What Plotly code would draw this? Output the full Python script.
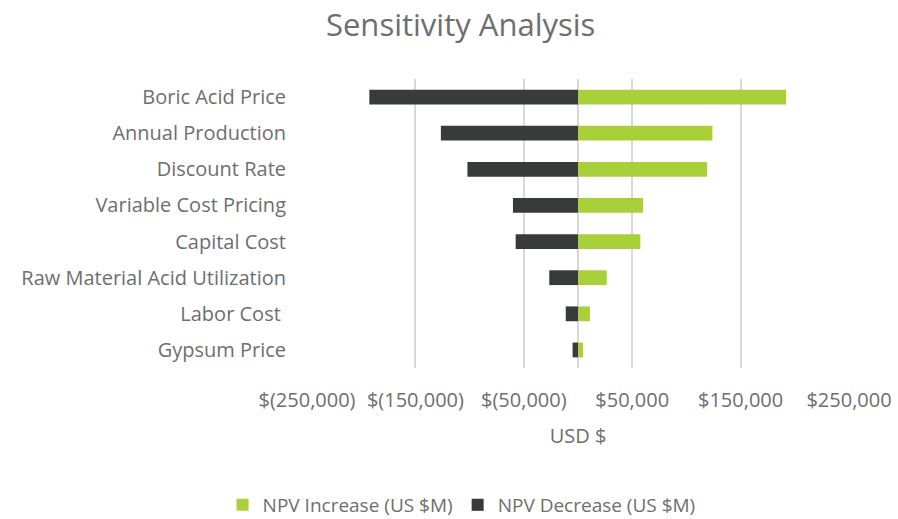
import plotly.graph_objects as go

# Sensitivity drivers, listed top to bottom
factors = [
    "Boric Acid Price",
    "Annual Production",
    "Discount Rate",
    "Variable Cost Pricing",
    "Capital Cost",
    "Raw Material Acid Utilization",
    "Labor Cost ",
    "Gypsum Price",
]
npv_increase = [192000, 124000, 119000, 60000, 57500, 26500, 11000, 4600]
npv_decrease = [-192500, -126500, -102000, -60000, -57500, -26500, -11300, -5000]

tick_values = [-250000, -150000, -50000, 50000, 150000, 250000]
tick_labels = ["$(250,000)", "$(150,000)", "$(50,000)", "$50,000", "$150,000", "$250,000"]

GREEN = "#A9D03A"
DARK = "#393B3B"
TEXT = "#6E6E6E"
GRID = "#D9D9D9"
FONT = "Open Sans"

fig = go.Figure()
fig.add_trace(go.Bar(
    y=factors, x=npv_increase, orientation="h",
    name="NPV Increase (US $M)", marker=dict(color=GREEN, line=dict(width=0)),
))
fig.add_trace(go.Bar(
    y=factors, x=npv_decrease, orientation="h",
    name="NPV Decrease (US $M)", marker=dict(color=DARK, line=dict(width=0)),
))

fig.update_layout(
    width=898, height=519,
    barmode="relative", bargap=0.59,
    plot_bgcolor="white", paper_bgcolor="white",
    font=dict(family=FONT, color=TEXT, size=20),
    title=dict(text="Sensitivity Analysis", x=0.513, xanchor="center",
               y=0.952, yanchor="middle",
               font=dict(family=FONT, size=31, color="#6E6E6E")),
    margin=dict(l=307, r=49, t=79, b=151, autoexpand=False),
    legend=dict(orientation="h", x=0.514, xanchor="center",
                y=(519 - 505) / 519, yanchor="middle",
                xref="container", yref="container",
                font=dict(size=19, color=TEXT),
                traceorder="normal"),
    showlegend=True,
)

fig.update_xaxes(
    range=[-250000, 250000], tickvals=tick_values, ticktext=tick_labels,
    showgrid=True, gridcolor=GRID, gridwidth=1.5,
    zeroline=True, zerolinecolor=GRID, zerolinewidth=1.5,
    showline=False, ticks="", tickfont=dict(size=20, color=TEXT),
    ticklabelstandoff=18, automargin=False,
    title=dict(text="USD $", font=dict(size=20, color=TEXT), standoff=16),
)
fig.update_yaxes(
    autorange="reversed", showgrid=False, ticks="", showline=False,
    tickfont=dict(size=20, color=TEXT), ticklabelstandoff=20, automargin=False,
)

fig.write_html("out.html")
